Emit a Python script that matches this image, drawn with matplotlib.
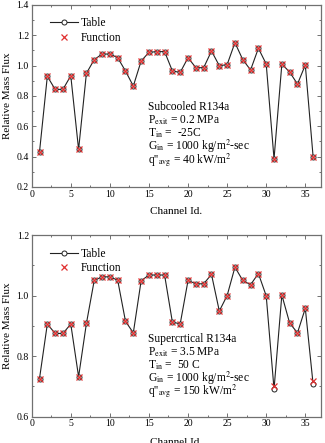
import numpy as np
import matplotlib
matplotlib.use('Agg')
import matplotlib.pyplot as plt
from matplotlib.ticker import MultipleLocator

plt.rcParams['font.family'] = ['Liberation Serif', 'DejaVu Serif']
plt.rcParams['mathtext.fontset'] = 'stix'

# Channel numbers
channels = np.arange(1, 37)

# Subcooled case (top panel)
sub_table = [0.431, 0.929, 0.843, 0.843, 0.933, 0.447, 0.949, 1.039, 1.076, 1.076,
             1.052, 0.964, 0.865, 1.030, 1.087, 1.092, 1.092, 0.964, 0.955, 1.052,
             0.986, 0.986, 1.096, 0.999, 1.006, 1.151, 1.039, 0.971, 1.114, 1.010,
             0.385, 1.010, 0.957, 0.878, 1.004, 0.398]
sub_func = list(sub_table)

# Supercritical case (bottom panel)
sup_table = [0.726, 0.906, 0.875, 0.875, 0.906, 0.732, 0.908, 1.050, 1.062, 1.062,
             1.051, 0.915, 0.877, 1.049, 1.068, 1.068, 1.068, 0.912, 0.907, 1.050,
             1.039, 1.039, 1.070, 0.949, 1.000, 1.094, 1.050, 1.036, 1.073, 0.999,
             0.691, 1.002, 0.909, 0.877, 0.958, 0.707]
sup_func = list(sup_table)
sup_func[30] = 0.702
sup_func[35] = 0.717

sub_text = ['Subcooled R134a',
            r'P$_{\mathrm{exit}}$ = 0.2 MPa',
            r'T$_{\mathrm{in}}$ =  -25C',
            r'G$_{\mathrm{in}}$ = 1000 kg/m$^{2}$-sec',
            r"q''$_{\mathrm{avg}}$ = 40 kW/m$^{2}$"]
sup_text = ['Supercrtical R134a',
            r'P$_{\mathrm{exit}}$ = 3.5 MPa',
            r'T$_{\mathrm{in}}$ =  50 C',
            r'G$_{\mathrm{in}}$ = 1000 kg/m$^{2}$-sec',
            r"q''$_{\mathrm{avg}}$ = 150 kW/m$^{2}$"]

fig = plt.figure(figsize=(3.25, 4.43), dpi=100)
ax1 = fig.add_axes([0.0975, 0.578, 0.890, 0.411])
ax2 = fig.add_axes([0.0975, 0.0594, 0.890, 0.410])

spine_col = '#707070'


def draw_panel(ax, table, func, lines, ylim, text_y, xpad):
    ax.plot(channels, table, color='#222222', lw=0.8, marker='o', ms=3.6,
            mfc='white', mec='#222222', mew=0.7, label='Table')
    ax.plot(channels, func, ls='none', marker='x', ms=4.2, color='#e03030',
            mew=0.9, label='Function')
    ax.set_xlim(0, 37)
    ax.set_ylim(*ylim)
    ax.xaxis.set_major_locator(MultipleLocator(5))
    ax.xaxis.set_minor_locator(MultipleLocator(2.5))
    ax.yaxis.set_major_locator(MultipleLocator(0.2))
    ax.yaxis.set_minor_locator(MultipleLocator(0.1))
    ax.tick_params(which='both', direction='in', top=True, right=True,
                   color=spine_col, labelsize=7, pad=2)
    ax.tick_params(which='major', length=3, width=0.7)
    ax.tick_params(which='minor', length=1.5, width=0.7)
    for s in ax.spines.values():
        s.set_color(spine_col)
        s.set_linewidth(0.9)
    ax.set_ylabel('Relative Mass Flux', fontsize=8, labelpad=3)
    ax.set_xlabel('Channel Id.', fontsize=8, labelpad=xpad)
    ax.legend(loc='upper left', frameon=False, fontsize=8.3,
              bbox_to_anchor=(0.035, 0.975), handlelength=2.4,
              handletextpad=0.25, borderpad=0.2, labelspacing=0.2)
    for i, t in enumerate(lines):
        ax.text(0.402, text_y - i * 0.073, t, transform=ax.transAxes,
                fontsize=8.3, va='center', ha='left')


draw_panel(ax1, sub_table, sub_func, sub_text, (0.2, 1.4), 0.44, 6)
draw_panel(ax2, sup_table, sup_func, sup_text, (0.6, 1.2), 0.43, 7)

fig.savefig('out.png', dpi=100)
